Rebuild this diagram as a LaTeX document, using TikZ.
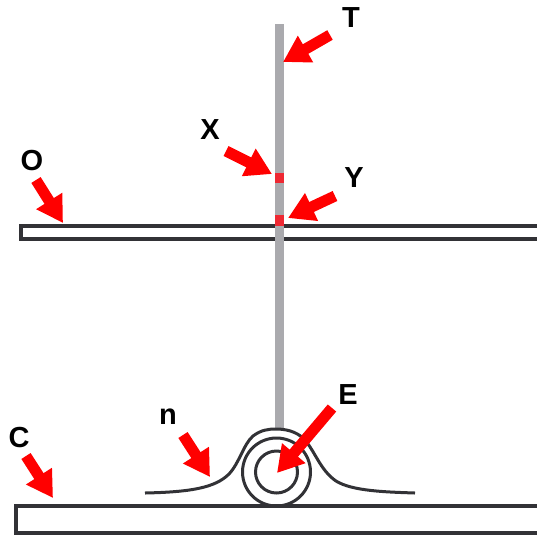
\documentclass[tikz,border=0pt]{standalone}
\usepackage{fontspec}
\setmainfont{Liberation Sans}
\usetikzlibrary{arrows.meta}
\definecolor{rodgray}{RGB}{170,170,174}
\definecolor{inkdark}{RGB}{50,50,54}
\definecolor{markred}{RGB}{238,40,50}
\tikzset{
  x=1pt,y=-1pt,
  plank/.style={draw=inkdark,line width=3.2pt,fill=white},
  rod/.style={fill=rodgray,draw=none},
  marker/.style={fill=markred,draw=none},
  wire/.style={draw=inkdark,line width=3pt},
  pointer/.style={draw=red,line width=11pt,-{Triangle[length=26pt,width=29pt]},shorten >=0pt},
  letter/.style={font=\bfseries\fontsize{29}{29}\selectfont,text=black,inner sep=0pt}
}
\begin{document}
\begin{tikzpicture}
\useasboundingbox (0,0) rectangle (537,536);
% planks
\draw[plank] (21,226) rectangle (540,239);
\draw[plank] (16,506) rectangle (540,533);
% rod
\fill[rod] (275,24) rectangle (284,428);
% markers
\fill[marker] (274.7,172.7) rectangle (283.5,183);
\fill[marker] (274.7,215) rectangle (283.5,226);
% roll
\draw[wire] (276.5,472) circle[radius=34];
\draw[wire] (276.5,472) circle[radius=21];
\draw[wire] (145,493) .. controls (190,492) and (215,488) .. (229,474)
  .. controls (240,462) and (243,445) .. (253,436)
  .. controls (261,430) and (268,429) .. (276,429)
  .. controls (285,429) and (296,431) .. (304,439)
  .. controls (315,451) and (320,470) .. (336,481)
  .. controls (352,491) and (385,492) .. (415,493);
% labels
\node[letter] (T) at (351,18) {T};
\node[letter] (X) at (210,130) {X};
\node[letter] (Y) at (354,178) {Y};
\node[letter] (O) at (32,161) {O};
\node[letter] (E) at (348,395) {E};
\node[letter] (n) at (168,417) {n};
\node[letter] (C) at (19,438) {C};
% pointer ends
\coordinate (Ttail) at (330,35);  \coordinate (Ttip) at (283,62);
\coordinate (Xtail) at (226,151); \coordinate (Xtip) at (272,174);
\coordinate (Ytail) at (335,196); \coordinate (Ytip) at (288,218);
\coordinate (Otail) at (36,180);  \coordinate (Otip) at (63,223);
\coordinate (Etail) at (332,408); \coordinate (Etip) at (277,473);
\coordinate (ntail) at (183,435); \coordinate (ntip) at (210,477);
\coordinate (Ctail) at (26,456);  \coordinate (Ctip) at (53,498);
\foreach \k in {T,X,Y,O,E,n,C}{
  \draw[pointer] (\k tail) -- (\k tip);
}
\end{tikzpicture}
\end{document}
